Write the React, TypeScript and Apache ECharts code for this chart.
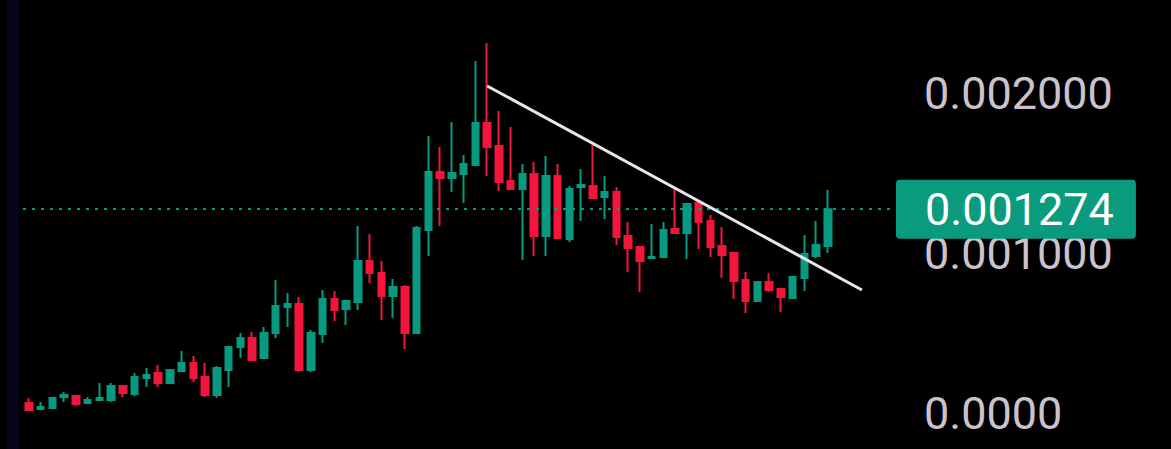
import React, { useEffect, useRef } from "react";
import * as echarts from "echarts";

// Prices in units of 1e-6
const UNIT = 1e-6;
const opens = [62,25,31,100,106,62,81,81,169,119,219,250,188,262,312,225,112,269,412,469,344,500,662,681,269,494,712,650,694,950,875,731,788,500,1144,1506,1469,1494,1550,1812,1669,1450,1400,1494,1106,1481,1088,1412,1419,1350,1381,1106,1038,969,975,1150,1125,1312,1200,1044,1000,831,700,819,775,719,844,981,1044];
const closes = [19,38,94,112,56,81,94,169,125,225,238,188,269,312,219,112,281,412,469,331,500,669,681,269,500,712,644,700,950,875,731,788,500,1156,1506,1469,1500,1556,1812,1662,1444,1400,1494,1106,1481,1094,1400,1425,1344,1381,1100,1031,950,975,1144,1125,1306,1194,1038,988,825,700,819,769,725,850,994,1050,1274];
const lows = [19,25,31,69,44,56,81,69,100,106,162,162,188,262,194,100,94,162,344,325,344,469,538,256,256,438,575,550,644,812,581,594,400,500,981,1169,1381,1312,1550,1481,1388,1400,956,981,981,1094,1069,1200,1338,1212,1050,881,756,969,975,1125,962,1025,975,844,712,625,700,756,631,719,762,969,1000];
const highs = [94,69,100,131,112,100,188,188,169,250,281,300,275,388,356,312,294,412,500,506,538,831,750,725,519,769,762,700,1169,1119,950,838,800,1169,1731,1662,1819,1612,2200,2312,1888,1788,1556,1569,1606,1556,1419,1525,1675,1481,1412,1194,1038,1181,1194,1406,1306,1331,1238,1162,1006,881,819,875,775,856,1112,1200,1394];

// Trendline endpoints: [bar index, price in 1e-6]
const trendStart = [39, 2044];
const trendEnd = [70.9, 769];

const lastPrice = 0.001274;
const lastPriceLabel = "0.001274";
const yTickLabels: Record<string, string> = {
  "0": "0.0000",
  "0.001": "0.001000",
  "0.002": "0.002000",
};

const TOTAL_SLOTS = 74;

const GREEN = "#089981";
const RED = "#f2163c";

export default function App() {
  const ref = useRef<HTMLDivElement>(null);
  useEffect(() => {
    if (!ref.current) return;
    const chart = echarts.init(ref.current, undefined, { renderer: "svg" });
    const categories = Array.from({ length: TOTAL_SLOTS }, (_, i) => String(i));
    const candleData = opens.map((o, i) => [
      o * UNIT,
      closes[i] * UNIT,
      lows[i] * UNIT,
      highs[i] * UNIT,
    ]);
    chart.setOption({
      animation: false,
      backgroundColor: "#000000",
      graphic: [
        {
          type: "rect",
          shape: { x: 7, y: 0, width: 12, height: 449 },
          style: { fill: "#06061a" },
          silent: true,
          z: -1,
        },
      ],
      grid: { left: 23, right: 278.5, top: 13, height: 400 },
      xAxis: [
        {
          type: "category",
          data: categories,
          boundaryGap: true,
          show: false,
        },
        {
          type: "value",
          min: -0.5,
          max: TOTAL_SLOTS - 0.5,
          show: false,
        },
      ],
      yAxis: {
        type: "value",
        position: "right",
        min: 0,
        max: 0.0025,
        interval: 0.001,
        axisLine: { show: false },
        axisTick: { show: false },
        splitLine: { show: false },
        axisLabel: {
          show: true,
          color: "#cbc2ce",
          fontSize: 45,
          fontFamily: "Roboto",
          align: "left",
          margin: 31.5,
          hideOverlap: false,
          formatter: (v: number) => {
            const key = String(Math.round(v * 1e6) / 1e6);
            return yTickLabels[key] ?? "";
          },
        },
      },
      series: [
        {
          type: "candlestick",
          xAxisIndex: 0,
          data: candleData,
          barWidth: 7,
          itemStyle: {
            color: GREEN,
            color0: RED,
            borderColor: GREEN,
            borderColor0: RED,
            borderWidth: 2,
          },
        },
        {
          type: "line",
          xAxisIndex: 1,
          data: [
            [trendStart[0], trendStart[1] * UNIT],
            [trendEnd[0], trendEnd[1] * UNIT],
          ],
          symbol: "none",
          lineStyle: { color: "#ebe4ee", width: 3 },
          z: 5,
          silent: true,
          markLine: {
            silent: true,
            symbol: ["none", "none"],
            lineStyle: { color: GREEN, width: 2, type: [3, 6] },
            label: {
              show: true,
              position: "end",
              distance: 3.5,
              formatter: lastPriceLabel,
              color: "#ffffff",
              fontSize: 45,
              lineHeight: 44,
              fontFamily: "Roboto",
              backgroundColor: "#0a9b7e",
              borderRadius: 4,
              padding: [7.5, 22, 7.5, 29],
            },
            data: [
              [
                { coord: [-0.5, lastPrice] },
                { coord: [TOTAL_SLOTS - 0.5, lastPrice] },
              ],
            ],
          },
        },
      ],
    });
    return () => chart.dispose();
  }, []);
  return (
    <div
      ref={ref}
      style={{ position: "fixed", left: 0, top: 0, width: 1171, height: 449, background: "#000" }}
    />
  );
}
